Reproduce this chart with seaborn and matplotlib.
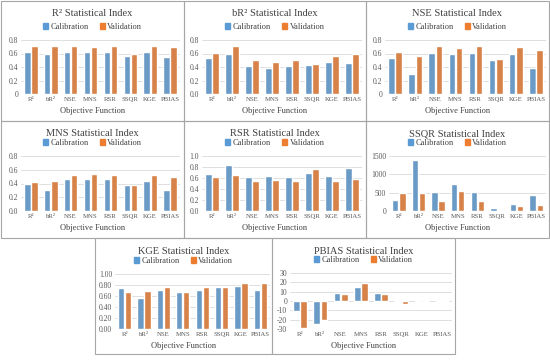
import numpy as np
import matplotlib.pyplot as plt
import pandas as pd
import seaborn as sns
from matplotlib.patches import Rectangle, Patch

functions = ['R²', 'bR²', 'NSE', 'MNS', 'RSR', 'SSQR', 'KGE', 'PBIAS']

r2_cal = [0.62, 0.60, 0.62, 0.62, 0.62, 0.57, 0.62, 0.55]
r2_val = [0.71, 0.71, 0.71, 0.70, 0.71, 0.59, 0.71, 0.69]
br2_cal = [0.53, 0.59, 0.41, 0.39, 0.41, 0.43, 0.48, 0.46]
br2_val = [0.61, 0.71, 0.50, 0.47, 0.50, 0.45, 0.57, 0.60]
nse_cal = [0.53, 0.30, 0.61, 0.60, 0.61, 0.51, 0.59, 0.39]
nse_val = [0.62, 0.57, 0.71, 0.68, 0.71, 0.52, 0.70, 0.65]
mns_cal = [0.40, 0.30, 0.46, 0.47, 0.46, 0.38, 0.44, 0.31]
mns_val = [0.42, 0.44, 0.53, 0.54, 0.53, 0.38, 0.53, 0.50]
rsr_cal = [0.68, 0.83, 0.62, 0.63, 0.62, 0.70, 0.64, 0.78]
rsr_val = [0.62, 0.66, 0.54, 0.57, 0.54, 0.76, 0.55, 0.59]
ssqr_cal = [300, 1400, 520, 730, 520, 70, 190, 450]
ssqr_val = [490, 490, 260, 550, 260, 40, 145, 165]
kge_cal = [0.75, 0.57, 0.71, 0.67, 0.71, 0.76, 0.79, 0.71]
kge_val = [0.67, 0.69, 0.76, 0.67, 0.76, 0.76, 0.84, 0.83]
pbias_cal = [-11, -25, 9, 15, 9, 0, 1, 0]
pbias_val = [-29, -20, 7, 19, 7, -3, 0, 0]

ticks_08 = [0, 0.2, 0.4, 0.6, 0.8]
ticks_10 = [0, 0.2, 0.4, 0.6, 0.8, 1.0]
ticks_ssqr = [0, 500, 1000, 1500]
ticks_pbias = [-30, -20, -10, 0, 10, 20, 30]

sns.set_theme(style='white')
plt.rcParams['font.family'] = ['Liberation Serif', 'DejaVu Serif']

W, H = 550, 361
fig = plt.figure(figsize=(5.5, 3.61), dpi=100)
blue, orange = '#5B9BD5', '#ED7D31'
txt = '#404040'


def fx(x):
    return x / W


def fy(y):
    return 1 - y / H


# name, cal, val, ticks, tick labels, panel box, plot box
panels = [
    ('R² Statistical Index', r2_cal, r2_val, ticks_08, ['0', '0.2', '0.4', '0.6', '0.8'],
     (1, 1, 184, 121), (21, 40, 180, 94)),
    ('bR² Statistical Index', br2_cal, br2_val, ticks_08, ['0.0', '0.2', '0.4', '0.6', '0.8'],
     (184, 1, 366, 121), (202, 40, 362, 94)),
    ('NSE Statistical Index', nse_cal, nse_val, ticks_08, ['0', '0.2', '0.4', '0.6', '0.8'],
     (366, 1, 549, 121), (385, 40, 546, 94)),
    ('MNS Statistical Index', mns_cal, mns_val, ticks_08, ['0.0', '0.2', '0.4', '0.6', '0.8'],
     (1, 121, 184, 238), (21, 156, 180, 211)),
    ('RSR Statistical Index', rsr_cal, rsr_val, ticks_10, ['0.0', '0.2', '0.4', '0.6', '0.8', '1.0'],
     (184, 121, 366, 238), (202, 156, 362, 211)),
    ('SSQR Statistical Index', ssqr_cal, ssqr_val, ticks_ssqr, ['0', '500', '1000', '1500'],
     (366, 121, 549, 238), (389, 156, 546, 211)),
    ('KGE Statistical Index', kge_cal, kge_val, ticks_10, ['0.00', '0.20', '0.40', '0.60', '0.80', '1.00'],
     (95, 238, 272, 354), (115, 274, 270, 329)),
    ('PBIAS Statistical Index', pbias_cal, pbias_val, ticks_pbias, [str(t) for t in ticks_pbias],
     (272, 238, 455, 354), (290, 273, 452, 329)),
]

for title, cal, val, ticks, tlabels, pbox, abox in panels:
    x0, y0, x1, y1 = pbox
    fig.add_artist(Rectangle((fx(x0), fy(y1)), fx(x1 - x0), (y1 - y0) / H,
                             transform=fig.transFigure, fill=False,
                             edgecolor='#a6a6a6', lw=0.8))
    ax = fig.add_axes([fx(abox[0]), fy(abox[3]), fx(abox[2] - abox[0]), (abox[3] - abox[1]) / H])
    df = pd.DataFrame({
        'func': functions * 2,
        'value': cal + val,
        'set': ['Calibration'] * 8 + ['Validation'] * 8,
    })
    sns.barplot(data=df, x='func', y='value', hue='set', palette=[blue, orange],
                width=0.72, gap=0.1, ax=ax, legend=False)
    ax.set_ylim(ticks[0], ticks[-1])
    ax.set_yticks(ticks)
    ax.set_yticklabels(tlabels)
    ax.yaxis.grid(True, color='#d9d9d9', lw=0.6)
    ax.set_axisbelow(True)
    for s in ax.spines.values():
        s.set_visible(False)
    ax.tick_params(axis='y', length=0, labelsize=5.5, colors='#595959', pad=2)
    ax.tick_params(axis='x', length=0, labelsize=4.9, colors='#595959', pad=2.5)
    ax.set_xlabel('')
    ax.set_ylabel('')
    ax.set_xlim(-0.5, 7.5)
    cx = (x0 + x1) / 2
    fig.text(fx(cx), fy(y0 + 13 if y0 > 1 else 14), title, ha='center', va='center',
             fontsize=7.5, color=txt)
    fig.text(fx(cx), fy(abox[3] + 17), 'Objective Function', ha='center', va='center',
             fontsize=6, color=txt)
    handles = [Patch(color=blue), Patch(color=orange)]
    fig.legend(handles, ['Calibration', 'Validation'], loc='center',
               bbox_to_anchor=(fx(cx), fy(abox[1] - 13)), ncol=2, frameon=False,
               fontsize=6, handlelength=0.6, handleheight=0.6, handletextpad=0.3,
               columnspacing=1.3, labelcolor=txt)

fig.savefig('out.png', dpi=100)
